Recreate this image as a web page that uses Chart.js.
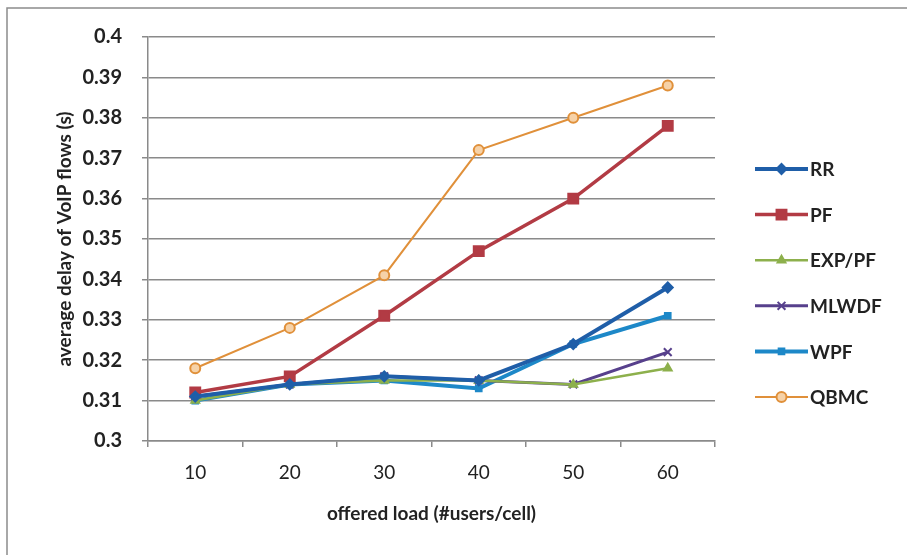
<!DOCTYPE html>
<html>
<head>
<meta charset="utf-8">
<script src="https://cdn.jsdelivr.net/npm/chart.js@4/dist/chart.umd.min.js"></script>
<style>
  html, body { margin: 0; padding: 0; background: #fff; }
  #wrap { width: 907px; height: 555px; }
</style>
</head>
<body>
<div id="wrap"><canvas id="chartDelay" width="907" height="555"></canvas></div>
<script>
// datos
const cargas = ["10", "20", "30", "40", "50", "60"];
const rr    = [0.311, 0.314, 0.316, 0.315, 0.324, 0.338];
const pf    = [0.312, 0.316, 0.331, 0.347, 0.360, 0.378];
const expPf = [0.310, 0.314, 0.315, 0.315, 0.314, 0.318];
const mlwdf = [0.311, 0.314, 0.316, 0.315, 0.314, 0.322];
const wpf   = [0.310, 0.314, 0.315, 0.313, 0.324, 0.331];
const qbmc  = [0.318, 0.328, 0.341, 0.372, 0.380, 0.388];

const fuente = "Lato, 'Liberation Sans', sans-serif";
const gris = "#8a8a8a";

function serie(label, data, color, estilo, radio, ancho, relleno) {
    return {
        label: label,
        data: data,
        borderColor: color,
        backgroundColor: relleno || color,
        borderWidth: ancho,
        pointStyle: estilo,
        pointRadius: radio,
        pointBorderWidth: 2,
        pointBorderColor: color,
        pointBackgroundColor: relleno || color,
        tension: 0,
        fill: false
    };
}

const datasets = [
    serie("RR", rr, "#1f5ea8", "rectRot", 5, 4),
    serie("PF", pf, "#b23b44", "rect", 7, 3.5),
    serie("EXP/PF", expPf, "#8db04c", "triangle", 4.5, 2.5),
    serie("MLWDF", mlwdf, "#57408c", "crossRot", 5.5, 3),
    serie("WPF", wpf, "#1d88c8", "rect", 4, 4),
    serie("QBMC", qbmc, "#e0903a", "circle", 5, 2, "#f6d2a8")
];

// marco gris alrededor del grafico
const marco = {
    id: "marco",
    beforeDraw(chart) {
        const ctx = chart.ctx;
        ctx.save();
        ctx.fillStyle = "#fff";
        ctx.fillRect(0, 0, chart.width, chart.height);
        ctx.strokeStyle = "#8c8c8c";
        ctx.lineWidth = 1.5;
        ctx.strokeRect(7, 8, chart.width + 50, chart.height + 50);
        ctx.restore();
    }
};

// leyenda a la derecha, con linea y marcador
const leyenda = {
    id: "leyenda",
    afterDraw(chart) {
        const ctx = chart.ctx;
        const x0 = 755, x1 = 808, y0 = 169, paso = 45.6;
        ctx.save();
        chart.data.datasets.forEach((ds, i) => {
            const y = y0 + i * paso;
            ctx.strokeStyle = ds.borderColor;
            ctx.lineWidth = ds.borderWidth;
            ctx.beginPath();
            ctx.moveTo(x0, y);
            ctx.lineTo(x1, y);
            ctx.stroke();
            ctx.lineWidth = ds.pointBorderWidth;
            ctx.strokeStyle = ds.pointBorderColor;
            ctx.fillStyle = ds.pointBackgroundColor;
            Chart.helpers.drawPoint(ctx, {
                pointStyle: ds.pointStyle,
                radius: ds.pointRadius,
                rotation: 0,
                borderWidth: ds.pointBorderWidth
            }, (x0 + x1) / 2, y);
            ctx.fillStyle = "#222";
            ctx.font = "bold 19px " + fuente;
            ctx.textBaseline = "middle";
            ctx.textAlign = "left";
            ctx.fillText(ds.label, x1 + 2, y + 1);
        });
        ctx.restore();
    }
};

new Chart(document.getElementById("chartDelay"), {
    type: "line",
    data: { labels: cargas, datasets: datasets },
    options: {
        responsive: false,
        animation: false,
        layout: { padding: { top: 37, right: 192, bottom: 0, left: 0 } },
        plugins: {
            legend: { display: false },
            tooltip: { enabled: false }
        },
        scales: {
            x: {
                type: "category",
                offset: true,
                afterFit(scale) { scale.height = 114; },
                grid: {
                    offset: true,
                    drawOnChartArea: false,
                    drawTicks: true,
                    tickLength: 6,
                    color: gris,
                    lineWidth: 1.5
                },
                border: { color: gris, width: 1.5 },
                ticks: {
                    color: "#222",
                    padding: 14,
                    font: { family: fuente, size: 19 }
                },
                title: {
                    display: true,
                    text: "offered load (#users/cell)",
                    color: "#222",
                    font: { family: fuente, size: 19, weight: "bold" },
                    padding: { top: 0, bottom: 30 }
                }
            },
            y: {
                min: 0.3,
                max: 0.4,
                afterFit(scale) { scale.width = 148; },
                grid: {
                    color: gris,
                    lineWidth: 1.5,
                    tickLength: 6
                },
                border: { color: gris, width: 1.5 },
                ticks: {
                    stepSize: 0.01,
                    color: "#222",
                    padding: 20,
                    font: { family: fuente, size: 20, weight: "bold" },
                    callback: v => Number(v.toFixed(2)).toString()
                },
                title: {
                    display: true,
                    text: "average delay of VoIP flows (s)",
                    color: "#222",
                    font: { family: fuente, size: 19, weight: "bold" },
                    padding: { top: 53, bottom: 0 }
                }
            }
        }
    },
    plugins: [marco, leyenda]
});
</script>
</body>
</html>
